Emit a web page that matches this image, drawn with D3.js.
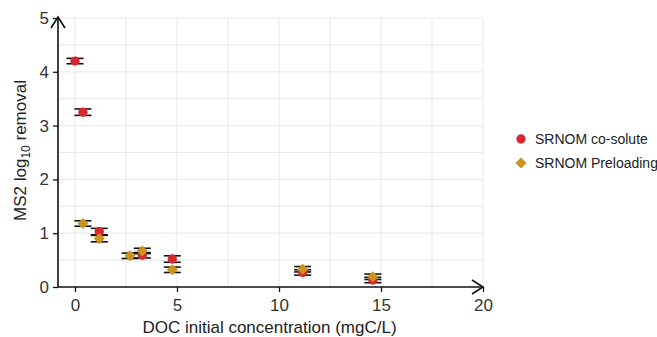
<!DOCTYPE html>
<html>
<head>
<meta charset="utf-8">
<script src="https://cdn.jsdelivr.net/npm/d3@7"></script>
<style>
  html, body { margin: 0; padding: 0; background: #fff; }
  svg { display: block; font-family: "Liberation Sans", Arial, sans-serif; }
</style>
</head>
<body>
<svg id="chart" width="657" height="337"></svg>
<script>
// ---- data ----
const seriesNames = ["SRNOM co-solute", "SRNOM Preloading"];
const coSoluteX   = [0, 0.39, 1.19, 3.3, 4.77, 11.16, 14.6];
const coSoluteY   = [4.2, 3.25, 1.03, 0.59, 0.52, 0.27, 0.13];
const coSoluteErr = [0.05, 0.06, 0.06, 0.05, 0.06, 0.05, 0.05];
const preloadX    = [0.39, 1.19, 2.7, 3.3, 4.77, 11.16, 14.6];
const preloadY    = [1.18, 0.9, 0.58, 0.67, 0.32, 0.33, 0.19];
const preloadErr  = [0.05, 0.06, 0.05, 0.05, 0.05, 0.05, 0.05];
const xTicks = [0, 5, 10, 15, 20];
const yTicks = [0, 1, 2, 3, 4, 5];
const xGrid = [0, 2.5, 5, 7.5, 10, 12.5, 15, 17.5, 20];
const yGrid = [0.5, 1, 1.5, 2, 2.5, 3, 3.5, 4, 4.5, 5];
const colors = ["#d7282f", "#c9951e"];

const svg = d3.select("#chart");
const x = d3.scaleLinear().domain([-0.833, 20]).range([58, 483]);
const y = d3.scaleLinear().domain([0, 5]).range([287, 18]);

// grid
const g = svg.append("g");
g.selectAll(".vg").data(xGrid).enter().append("line")
  .attr("x1", d => x(d)).attr("x2", d => x(d))
  .attr("y1", y(5)).attr("y2", y(0))
  .attr("stroke", "#ebebeb").attr("stroke-width", 1.2);
g.selectAll(".hg").data(yGrid).enter().append("line")
  .attr("x1", x.range()[0]).attr("x2", x.range()[1])
  .attr("y1", d => y(d)).attr("y2", d => y(d))
  .attr("stroke", "#ebebeb").attr("stroke-width", 1.2);

// axes
const xAxis = d3.axisBottom(x).tickValues(xTicks).tickSize(5).tickPadding(7).tickFormat(d3.format("d"));
const yAxis = d3.axisLeft(y).tickValues(yTicks).tickSize(5).tickPadding(4).tickFormat(d3.format("d"));
const xa = svg.append("g").attr("transform", `translate(0,${y(0)})`).call(xAxis);
const ya = svg.append("g").attr("transform", `translate(${x.range()[0]},0)`).call(yAxis);
[xa, ya].forEach(a => {
  a.select(".domain").remove();
  a.selectAll(".tick line").attr("stroke", "#111").attr("stroke-width", 1.3);
  a.selectAll(".tick text").attr("fill", "#333").style("font-size", "17px").style("font-family", "Liberation Sans, Arial, sans-serif");
});

// axis lines with arrows
const ax = svg.append("g").attr("stroke", "#111").attr("stroke-width", 1.6).attr("fill", "none");
ax.append("line").attr("x1", x.range()[0]).attr("x2", x.range()[1]).attr("y1", y(0)).attr("y2", y(0));
ax.append("line").attr("x1", x.range()[0]).attr("x2", x.range()[0]).attr("y1", y(0)).attr("y2", y(5) - 1);
ax.append("path").attr("d", `M${x.range()[1]-11},${y(0)-7} L${x.range()[1]},${y(0)} L${x.range()[1]-11},${y(0)+7}`);
ax.append("path").attr("d", `M${x.range()[0]-7},${y(5)+10} L${x.range()[0]},${y(5)-1} L${x.range()[0]+7},${y(5)+10}`);

// axis titles
svg.append("text").attr("x", (x(-0.833)+x(20))/2 - 1).attr("y", 333)
  .attr("text-anchor", "middle").attr("fill", "#222").style("font-size", "17px")
  .text("DOC initial concentration (mgC/L)");
const yt = svg.append("text").attr("transform", `translate(26,${(y(0)+y(5))/2 - 2}) rotate(-90)`)
  .attr("text-anchor", "middle").attr("fill", "#222").style("font-size", "17px");
yt.append("tspan").text("MS2 log");
yt.append("tspan").attr("dy", 4).style("font-size", "12px").text("10");
yt.append("tspan").attr("dy", -4).text(" removal");

// data
const series = [
  coSoluteX.map((d, i) => ({x: d, y: coSoluteY[i], e: coSoluteErr[i]})),
  preloadX.map((d, i) => ({x: d, y: preloadY[i], e: preloadErr[i]}))
];
const cap = 8.5;
series.forEach((s, si) => {
  const eg = svg.append("g").attr("stroke", "#111").attr("stroke-width", 1.6);
  s.forEach(p => {
    eg.append("line").attr("x1", x(p.x)).attr("x2", x(p.x)).attr("y1", y(p.y - p.e)).attr("y2", y(p.y + p.e));
    eg.append("line").attr("x1", x(p.x) - cap).attr("x2", x(p.x) + cap).attr("y1", y(p.y + p.e)).attr("y2", y(p.y + p.e));
    eg.append("line").attr("x1", x(p.x) - cap).attr("x2", x(p.x) + cap).attr("y1", y(p.y - p.e)).attr("y2", y(p.y - p.e));
  });
});
const circle = d3.symbol().type(d3.symbolCircle).size(68)();
const diamond = d3.symbol().type(d3.symbolSquare).size(62)();
series.forEach((s, si) => {
  svg.append("g").selectAll("path").data(s).enter().append("path")
    .attr("transform", p => `translate(${x(p.x)},${y(p.y)})` + (si === 1 ? " rotate(45)" : ""))
    .attr("d", si === 1 ? diamond : circle)
    .attr("fill", colors[si]);
});

// legend
const lg = svg.append("g");
seriesNames.forEach((n, i) => {
  const cy = 139 + i * 24;
  lg.append("path").attr("transform", `translate(521,${cy})` + (i === 1 ? " rotate(45)" : ""))
    .attr("d", i === 1 ? diamond : circle)
    .attr("fill", colors[i]);
  lg.append("text").attr("x", 535).attr("y", cy + 5).attr("fill", "#222").style("font-size", "14px").text(n);
});
</script>
</body>
</html>
